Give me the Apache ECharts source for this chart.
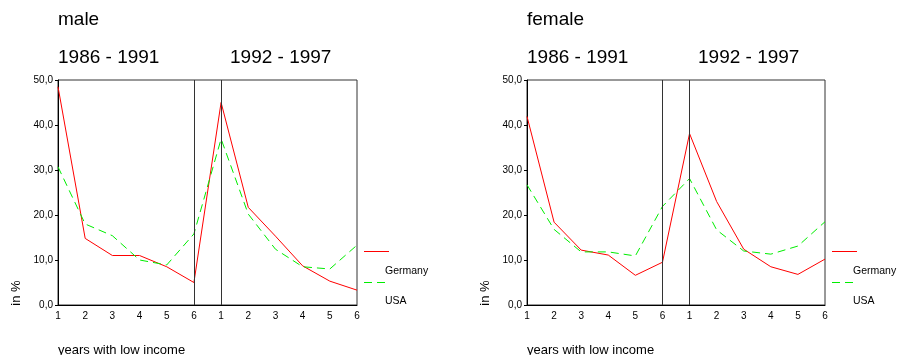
<!DOCTYPE html>
<html><head><meta charset="utf-8">
<script src="https://cdn.jsdelivr.net/npm/echarts@6/dist/echarts.min.js"></script>
<style>html,body{margin:0;padding:0;background:#fff}#c{width:898px;height:355px}</style>
</head><body><div id="c"></div>
<script>
var categories = ['1','2','3','4','5','6','1','2','3','4','5','6'];
var maleGermany = [48.5, 14.8, 11.0, 11.0, 8.5, 5.0, 45.0, 21.7, 15.3, 8.7, 5.3, 3.3];
var maleUSA = [30.7, 18.0, 15.4, 10.0, 8.9, 15.8, 36.9, 20.2, 12.4, 8.5, 8.0, 13.3];
var femaleGermany = [41.9, 18.4, 12.2, 11.1, 6.6, 9.5, 38.1, 23.0, 12.4, 8.5, 6.8, 10.2];
var femaleUSA = [26.7, 16.8, 11.8, 11.8, 10.9, 21.9, 28.1, 16.7, 12.0, 11.3, 13.1, 18.5];
var periodBreaks = [5, 6];
var panelTitles = ['male', 'female'];
var periodLabels = ['1986 - 1991', '1992 - 1997'];
var seriesNames = ['Germany', 'USA'];

var FONT = 'Arial, "Liberation Sans", sans-serif';
var chart = echarts.init(document.getElementById('c'), null, {renderer: 'canvas'});

var grids = [
  {left: 58, top: 80, width: 299, height: 225},
  {left: 527, top: 80, width: 298, height: 225}
];

function xAxis(i) {
  return {
    type: 'category', gridIndex: i, data: categories, boundaryGap: false,
    axisLine: {show: true, lineStyle: {color: '#000', width: 1}},
    axisTick: {show: false},
    axisLabel: {color: '#000', fontSize: 10, fontFamily: FONT, margin: 6, interval: 0},
    splitLine: {show: false}
  };
}
function yAxis(i) {
  return {
    type: 'value', gridIndex: i, min: 0, max: 50, interval: 10,
    axisLine: {show: true, lineStyle: {color: '#000', width: 1}},
    axisTick: {show: true, length: 3, lineStyle: {color: '#000'}},
    axisLabel: {color: '#000', fontSize: 10, fontFamily: FONT, margin: 5,
      formatter: function (v) { return v.toFixed(1).replace('.', ','); }},
    splitLine: {show: false}
  };
}

function mkSeries(name, data, idx, color, dashed, withBreaks) {
  var s = {
    name: name, type: 'line', xAxisIndex: idx, yAxisIndex: idx, data: data,
    symbol: 'none', silent: true, animation: false,
    lineStyle: {color: color, width: 1, type: dashed ? [8, 5] : 'solid'},
    itemStyle: {color: color}
  };
  if (withBreaks) {
    s.markLine = {
      silent: true, symbol: 'none', animation: false,
      label: {show: false},
      lineStyle: {color: '#333', width: 1, type: 'solid'},
      data: periodBreaks.map(function (b) { return {xAxis: b}; })
    };
  }
  return s;
}

var graphics = [];
function addTexts(gx, p, title) {
  graphics.push({type: 'text', left: gx, top: 10, style: {text: title, font: '19px ' + FONT, fill: '#000'}});
  graphics.push({type: 'text', left: gx, top: 48, style: {text: periodLabels[0], font: '19px ' + FONT, fill: '#000'}});
  graphics.push({type: 'text', left: p, top: 48, style: {text: periodLabels[1], font: '19px ' + FONT, fill: '#000'}});
  graphics.push({type: 'text', left: gx, top: 344, style: {text: 'years with low income', font: '13px ' + FONT, fill: '#000'}});
  graphics.push({type: 'text', x: gx - 42, y: 293, rotation: Math.PI / 2,
    style: {text: 'in %', font: '13px ' + FONT, fill: '#000', align: 'center', verticalAlign: 'middle'}});
}
addTexts(58, 230, panelTitles[0]);
addTexts(527, 698, panelTitles[1]);

function addLegend(x, y0) {
  graphics.push({type: 'rect', shape: {x: x, y: y0, width: 25, height: 1}, style: {fill: '#ff0000'}});
  graphics.push({type: 'text', left: x + 21, top: y0 + 15, style: {text: seriesNames[0], font: '10.5px ' + FONT, fill: '#000'}});
  graphics.push({type: 'line', shape: {x1: x, y1: y0 + 31.5, x2: x + 25, y2: y0 + 31.5}, style: {stroke: '#00ee00', lineWidth: 1, lineDash: [8, 5]}});
  graphics.push({type: 'text', left: x + 21, top: y0 + 45, style: {text: seriesNames[1], font: '10.5px ' + FONT, fill: '#000'}});
}
addLegend(364, 251);
addLegend(832, 251);

chart.setOption({
  animation: false,
  backgroundColor: '#fff',
  grid: grids.map(function (g) { return Object.assign({show: true, borderColor: '#333', borderWidth: 1, backgroundColor: 'transparent'}, g); }),
  xAxis: [xAxis(0), xAxis(1)],
  yAxis: [yAxis(0), yAxis(1)],
  series: [
    mkSeries(seriesNames[0], maleGermany, 0, '#ff0000', false, true),
    mkSeries(seriesNames[1], maleUSA, 0, '#00ee00', true, false),
    mkSeries(seriesNames[0], femaleGermany, 1, '#ff0000', false, true),
    mkSeries(seriesNames[1], femaleUSA, 1, '#00ee00', true, false)
  ],
  graphic: graphics
});
</script></body></html>
